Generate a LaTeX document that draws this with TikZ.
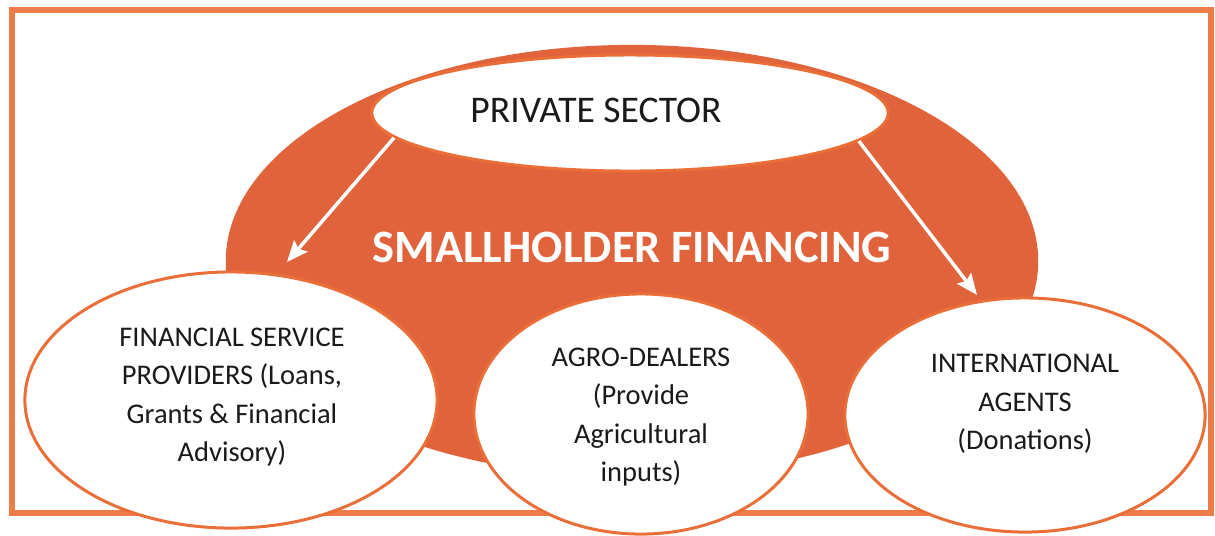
\documentclass[tikz,border=0pt]{standalone}
\usepackage{fontspec}
\setmainfont{Carlito}
\usetikzlibrary{shapes.geometric,arrows.meta}
\definecolor{frameor}{HTML}{EE7C48}
\definecolor{bigor}{HTML}{E0633B}
\definecolor{edgeor}{HTML}{EA6E38}
\definecolor{txt}{HTML}{1A1A1A}
\tikzset{
  frame/.style={draw=frameor, line width=0.06cm},
  bigell/.style={ellipse, fill=bigor, inner sep=0pt},
  bubble/.style={ellipse, draw=edgeor, fill=white, line width=0.03cm, inner sep=0pt},
  btext/.style={align=center, text=txt, inner sep=0pt, font=\fontsize{8.1}{10.9}\selectfont},
  warrow/.style={draw=white, line width=0.035cm, -{Stealth[length=6pt,width=5pt,inset=1pt]}},
}
\begin{document}
\begin{tikzpicture}[x=0.01cm,y=-0.01cm]
\useasboundingbox (0,0) rectangle (1215,535);
\draw[frame] (12,10) rectangle (1211,513);
\node[bigell, minimum width=8.12cm, minimum height=4.32cm] (big) at (632,261) {};
\node[bubble, minimum width=5.16cm, minimum height=1.16cm] (ps) at (630,113) {};
\node[btext, font=\fontsize{10.7}{13}\selectfont] (psT) at (596,110) {PRIVATE SECTOR};
\node[text=white, inner sep=0pt, font=\bfseries\fontsize{13.2}{15}\selectfont] (sf) at (632,247) {SMALLHOLDER FINANCING};
\coordinate (t1) at (287,262);
\coordinate (t2) at (977,295);
\draw[warrow] (ps.186) -- (t1);
\draw[warrow] (ps.353) -- (t2);
\node[bubble, minimum width=4.12cm, minimum height=2.56cm] (fsp) at (231,400) {};
\node[btext] (fspT) at (232,397)
  {FINANCIAL SERVICE\\PROVIDERS (Loans,\\Grants \& Financial\\Advisory)};
\node[bubble, minimum width=3.34cm, minimum height=2.40cm] (agro) at (641,414) {};
\node[btext] (agroT) at (641,417)
  {AGRO-DEALERS\\(Provide\\Agricultural\\inputs)};
\node[bubble, minimum width=3.60cm, minimum height=2.34cm] (intl) at (1025,415) {};
\node[btext] (intlT) at (1025,404)
  {INTERNATIONAL\\AGENTS\\(Donations)};
\end{tikzpicture}
\end{document}
